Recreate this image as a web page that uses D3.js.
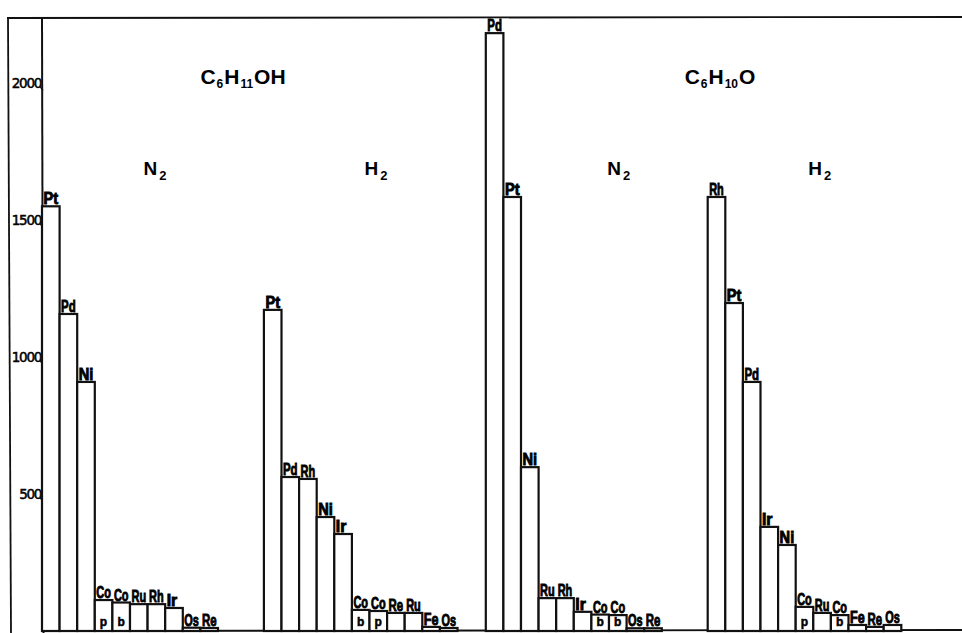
<!DOCTYPE html>
<html>
<head>
<meta charset="utf-8">
<script src="https://cdn.jsdelivr.net/npm/d3@7"></script>
<style>
  html, body { margin: 0; padding: 0; background: #fff; }
  svg { display: block; }
</style>
</head>
<body>
<svg id="chart" width="962" height="633"></svg>
<script>
// ---------- data ----------
const groupNames = ["C6H11OH-N2", "C6H11OH-H2", "C6H10O-N2", "C6H10O-H2"];
const gasLabels = ["N", "H", "N", "H"];

const g1Metals = ["Pt","Pd","Ni","Co","Co","Ru","Rh","Ir","Os","Re"];
const g1Values = [1550, 1157, 909, 113, 104, 98, 98, 84, 12, 11];
const g1Sub    = ["","","","p","b","","","","",""];

const g2Metals = ["Pt","Pd","Rh","Ni","Ir","Co","Co","Re","Ru","Fe","Os"];
const g2Values = [1172, 562, 555, 416, 354, 77, 73, 66, 66, 15, 11];
const g2Sub    = ["","","","","","b","p","","","",""];

const g3Metals = ["Pd","Pt","Ni","Ru","Rh","Ir","Co","Co","Os","Re"];
const g3Values = [2182, 1584, 598, 120, 120, 70, 60, 58, 10, 10];
const g3Sub    = ["","","","","","","b","b","",""];

const g4Metals = ["Rh","Pt","Pd","Ir","Ni","Co","Ru","Co","Fe","Re","Os"];
const g4Values = [1584, 1197, 909, 380, 314, 88, 66, 58, 22, 15, 22];
const g4Sub    = ["","","","","","p","","b","","",""];

const yTicks = [500, 1000, 1500, 2000];

// ---------- build ----------
const groups = [
  {name: groupNames[0], metals: g1Metals, values: g1Values, sub: g1Sub},
  {name: groupNames[1], metals: g2Metals, values: g2Values, sub: g2Sub},
  {name: groupNames[2], metals: g3Metals, values: g3Values, sub: g3Sub},
  {name: groupNames[3], metals: g4Metals, values: g4Values, sub: g4Sub}
];

const svg = d3.select("#chart");
const baseY = 631;
const axisX = 42;

const y = d3.scaleLinear().domain([0, 2000]).range([baseY, 83]);
const xGroup = d3.scaleBand().domain(groupNames).range([axisX, axisX + 4 * 221.9]).paddingInner(0).paddingOuter(0);
const xBar = d3.scaleBand().domain(d3.range(11)).range([0, 11 * 17.6]).padding(0);

const ink = "#111";

// frame
svg.append("line").attr("x1", 7).attr("x2", 962).attr("y1", 18).attr("y2", 17)
  .attr("stroke", ink).attr("stroke-width", 1.8);
svg.append("line").attr("x1", 8).attr("x2", 11).attr("y1", 18).attr("y2", 633)
  .attr("stroke", ink).attr("stroke-width", 1.8);

// y axis
const yAxis = d3.axisLeft(y).tickValues(yTicks).tickSize(0).tickPadding(1)
  .tickFormat(d3.format("d"));
const ag = svg.append("g").attr("transform", `translate(${axisX},0)`).call(yAxis);
ag.select(".domain").remove();
ag.selectAll(".tick text")
  .attr("font-family", "'DejaVu Sans','Liberation Sans',sans-serif")
  .attr("font-size", 13.5).attr("fill", "#000").attr("dy", "0.32em")
  .attr("letter-spacing", "-1.3")
  .attr("stroke", "#000").attr("stroke-width", 0.5);
ag.selectAll(".tick").append("line")
  .attr("x1", -2).attr("x2", 1).attr("y1", 3).attr("y2", 7)
  .attr("stroke", ink).attr("stroke-width", 1.3);
svg.append("line").attr("x1", axisX).attr("x2", axisX + 1.5).attr("y1", 18).attr("y2", 633)
  .attr("stroke", ink).attr("stroke-width", 2);

// baseline
svg.append("line").attr("x1", axisX).attr("x2", 962).attr("y1", baseY).attr("y2", baseY - 1)
  .attr("stroke", ink).attr("stroke-width", 1.8);

// bars
const labelFont = "'Liberation Sans','DejaVu Sans Condensed',sans-serif";
groups.forEach(g => {
  const gx = xGroup(g.name);
  const gg = svg.append("g").attr("transform", `translate(${gx},0)`);
  const data = g.metals.map((m, i) => ({m, v: g.values[i], s: g.sub[i], i}));
  gg.selectAll("rect").data(data).join("rect")
    .attr("x", d => xBar(d.i))
    .attr("y", d => y(d.v))
    .attr("width", xBar.bandwidth())
    .attr("height", d => baseY - y(d.v))
    .attr("fill", "#fff").attr("stroke", ink).attr("stroke-width", 2.2);
  gg.selectAll("text.lab").data(data).join("text")
    .attr("class", "lab")
    .attr("x", 0).attr("y", 0)
    .attr("font-family", labelFont)
    .attr("font-weight", "bold")
    .attr("font-size", 16)
    .attr("fill", "#000")
    .attr("stroke", "#000").attr("stroke-width", 0.9)
    .text(d => d.m)
    .each(function(d) {
      const w = this.getComputedTextLength() || 1;
      const target = d.m === "Ir" ? 10.5 : xBar.bandwidth() - 3;
      const sx = target / w;
      d3.select(this).attr("transform",
        `translate(${xBar(d.i) + 1.5},${y(d.v) - 2}) scale(${sx},1)`);
    });
  gg.selectAll("text.sub").data(data.filter(d => d.s)).join("text")
    .attr("class", "sub")
    .attr("x", d => xBar(d.i) + 5)
    .attr("y", baseY - 5)
    .attr("font-family", labelFont)
    .attr("font-weight", "bold")
    .attr("font-size", 12)
    .attr("fill", "#000")
    .attr("stroke", "#000").attr("stroke-width", 0.5)
    .text(d => d.s);
});

// titles
const titleFont = "'Liberation Sans','Arial',sans-serif";
function formula(x, yy, parts) {
  const t = svg.append("text").attr("x", x).attr("y", yy).attr("text-anchor", "middle")
    .attr("font-family", titleFont).attr("font-weight", "bold").attr("font-size", 21).attr("fill", "#000");
  let shifted = false;
  parts.forEach(p => {
    const ts = t.append("tspan").text(p.t);
    if (p.sub) {
      ts.attr("font-size", 12).attr("dy", shifted ? 0 : 4).attr("dx", 1);
      shifted = true;
    } else {
      if (shifted) ts.attr("dy", -4).attr("dx", 1);
      shifted = false;
    }
  });
}
formula(243, 84, [{t:"C"},{t:"6",sub:true},{t:"H"},{t:"11",sub:true},{t:"OH"}]);
formula(720, 84, [{t:"C"},{t:"6",sub:true},{t:"H"},{t:"10",sub:true},{t:"O"}]);

const gasOffsets = [113, 112, 133, 112];
groups.forEach((g, i) => {
  const t = svg.append("text")
    .attr("x", xGroup(g.name) + gasOffsets[i]).attr("y", 175)
    .attr("text-anchor", "middle")
    .attr("font-family", titleFont).attr("font-weight", "bold").attr("font-size", 19).attr("fill", "#000");
  t.append("tspan").text(gasLabels[i]);
  t.append("tspan").attr("font-size", 13).attr("dy", 5).attr("dx", 2).text("2");
});
</script>
</body>
</html>
